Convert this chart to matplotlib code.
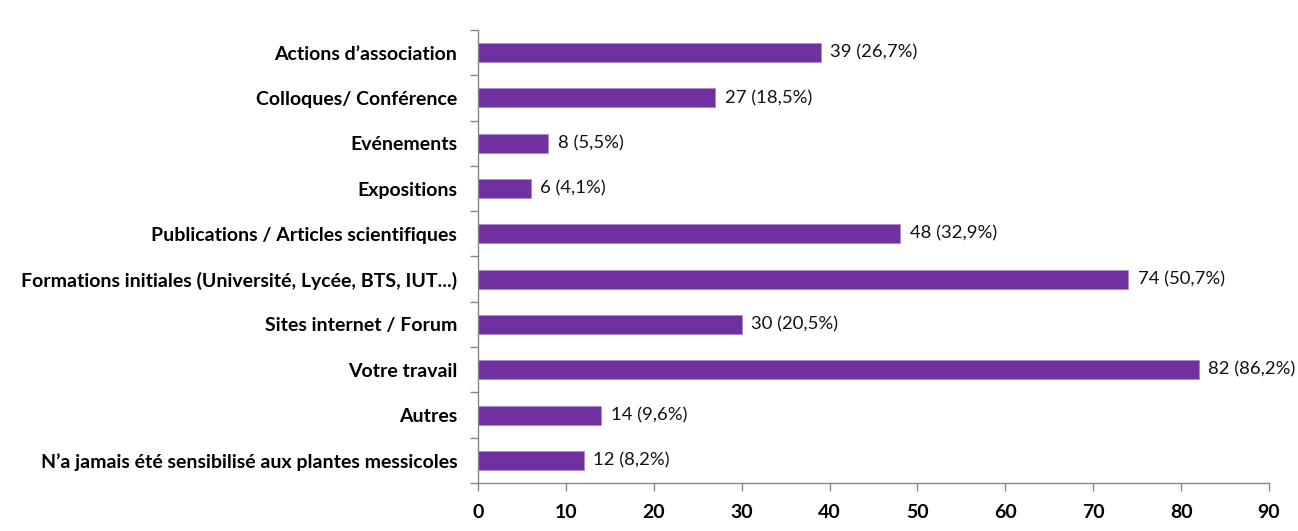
import numpy as np
import matplotlib.pyplot as plt

plt.rcParams['font.family'] = ['Lato', 'DejaVu Sans']

# Données du graphique
categories = [
    "Actions d\u2019association",
    "Colloques/ Conférence",
    "Evénements",
    "Expositions",
    "Publications / Articles scientifiques",
    "Formations initiales (Université, Lycée, BTS, IUT...)",
    "Sites internet / Forum",
    "Votre travail",
    "Autres",
    "N\u2019a jamais été sensibilisé aux plantes messicoles",
]
valeurs = [39, 27, 8, 6, 48, 74, 30, 82, 14, 12]
pourcentages = ["26,7", "18,5", "5,5", "4,1", "32,9", "50,7", "20,5", "86,2", "9,6", "8,2"]

fig = plt.figure(figsize=(12.98, 5.31), dpi=100)
ax = fig.add_axes([0.3683, 0.0904, 0.6094, 0.8531])

y = np.arange(len(categories))
ax.barh(y, valeurs, height=0.42, color='#7030A0', edgecolor='#a98bd0', linewidth=0.6)

for yi, v, p in zip(y, valeurs, pourcentages):
    ax.text(v + 1.1, yi, f"{v} ({p}%)", va='center', ha='left', fontsize=13.3, color='#111111')

ax.set_ylim(len(categories) - 0.5, -0.5)
ax.set_xlim(0, 90)
ax.set_xticks(np.arange(0, 91, 10))
ax.set_yticks(np.arange(-0.5, len(categories), 1.0))
ax.set_yticklabels([])
ax.set_yticks(y, minor=True)
ax.set_yticklabels(categories, minor=True, fontweight='bold', fontsize=14)
ax.tick_params(axis='y', which='minor', length=0, pad=15)
ax.tick_params(axis='y', which='major', length=6, color='#868686', width=1)
ax.tick_params(axis='x', length=6, color='#868686', width=1, labelsize=14, pad=9)
for lab in ax.get_xticklabels():
    lab.set_fontweight('bold')

for s in ['top', 'right']:
    ax.spines[s].set_visible(False)
for s in ['left', 'bottom']:
    ax.spines[s].set_color('#868686')
    ax.spines[s].set_linewidth(1)

fig.savefig('out.png', dpi=100)
